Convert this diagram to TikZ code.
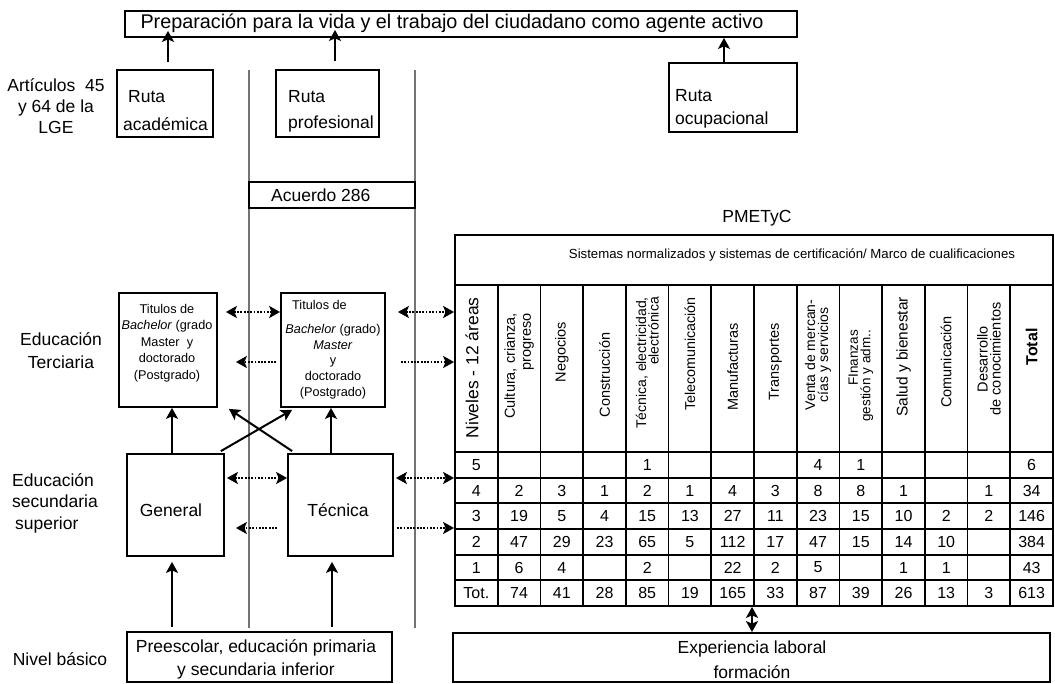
\documentclass[tikz,border=0pt]{standalone}
\usepackage{fontspec}
\setmainfont{Liberation Sans}
\usetikzlibrary{arrows.meta}
\newcommand{\fs}[2]{\fontsize{#1}{#2}\selectfont}
\begin{document}
\begin{tikzpicture}[x=1pt,y=-1pt,
  box/.style={draw, line width=1.8pt, inner sep=0pt},
  sep/.style={draw=black!55, line width=1.5pt},
  grid/.style={line width=1.8pt},
  tip/.tip={Stealth[length=11pt,width=12pt,inset=2.5pt]},
  arr/.style={line width=2pt, -tip},
  dbl/.style={line width=2pt, tip-tip},
  dots/.style={dash pattern=on 1.8pt off 1.5pt},
  lbl/.style={inner sep=0pt, font=\fs{17.5}{21}},
  small/.style={inner sep=0pt, font=\fs{12.7}{16.5}},
  num/.style={inner sep=0pt, font=\fs{16}{18}},
  hdr/.style={inner sep=0pt, rotate=90, font=\fs{14.5}{15}}]
\useasboundingbox (0,0) rectangle (1055,684);

% separators of the three routes
\draw[sep] (249,70) -- (249,628);
\draw[sep] (415,70) -- (415,628);

% top goal
\node[box, minimum width=672pt, minimum height=26pt] (title) at (461,24) {};
\node[lbl, font=\fs{19.8}{22}] (titletxt) at (452,23) {Preparación para la vida y el trabajo del ciudadano como agente activo};

% routes
\node[box, minimum width=96pt, minimum height=67pt] (rutaA) at (165,103.5) {};
\node[lbl, anchor=base west] (rutaA1) at (128,103) {Ruta};
\node[lbl, anchor=base west] (rutaA2) at (123,131) {académica};
\node[box, minimum width=103pt, minimum height=67pt] (rutaP) at (327.5,103.5) {};
\node[lbl, anchor=base west] (rutaP1) at (288,103) {Ruta};
\node[lbl, anchor=base west] (rutaP2) at (288,129) {profesional};
\node[box, minimum width=128pt, minimum height=69pt] (rutaO) at (733,97.5) {};
\node[lbl, anchor=base west] (rutaO1) at (675,102) {Ruta};
\node[lbl, anchor=base west] (rutaO2) at (675,125) {ocupacional};

\draw[arr] ([shift={(3,-7)}]rutaA.north) -- ([shift={(3,-7)}]rutaA.north |- title.south);
\draw[arr] ([shift={(7.5,-8)}]rutaP.north) -- ([shift={(7.5,-8)}]rutaP.north |- title.south);
\draw[arr] ([shift={(-9,0)}]rutaO.north) -- ([shift={(-9,0)}]rutaO.north |- title.south);

% left labels
\node[lbl, align=center, font=\fs{17.5}{21}] (lab1) at (56,106) {Artículos\ \ 45\\y 64 de la\\LGE};
\node[lbl, align=center, font=\fs{17.5}{23}] (lab2) at (61,351) {Educación\\Terciaria};
\node[lbl, align=left, anchor=west, font=\fs{17.5}{21.5}] (lab3) at (12,503) {Educación\\secundaria\\\hspace{3pt}superior};
\node[lbl] (lab4) at (60,659) {Nivel básico};

% agreement
\node[box, minimum width=166pt, minimum height=26pt] (acuerdo) at (332,195) {};
\node[lbl, anchor=west] (acuerdotxt) at (271,195) {Acuerdo 286};

% tertiary
\node[box, minimum width=98pt, minimum height=114pt] (t1) at (168,350) {};
\node[small, align=center] (t1txt) at (167,343) {Titulos de\\\textit{Bachelor} (grado\\Master\ \ y\\doctorado\\(Postgrado)};
\node[box, minimum width=104pt, minimum height=114pt] (t2) at (333,350) {};
\node[small, anchor=west] (t2a) at (292,305) {Titulos de};
\node[small, align=center, font=\fs{12.7}{15.75}] (t2b) at (333,361.5) {\textit{Bachelor} (grado)\\\textit{Master}\\y\\doctorado\\(Postgrado)};

% upper secondary
\node[box, minimum width=97pt, minimum height=102pt] (gen) at (175.5,505) {};
\node[lbl] (gentxt) at (171,510) {General};
\node[box, minimum width=105pt, minimum height=102pt] (tec) at (340.5,505) {};
\node[lbl] (tectxt) at (338,510) {Técnica};

% basic level
\node[box, minimum width=265pt, minimum height=50pt] (pre) at (259.5,657) {};
\node[lbl, align=center, font=\fs{17.5}{23}] (pretxt) at (256,659) {Preescolar, educación primaria\\y secundaria inferior};

% work experience
\node[box, minimum width=597pt, minimum height=49pt] (exp) at (751.5,657.5) {};
\node[lbl, align=center, font=\fs{17.5}{25}] (exptxt) at (752,660) {Experiencia laboral\\formación};

% PMETyC table
\node[lbl] (pme) at (757,218) {PMETyC};
\node[box, minimum width=598pt, minimum height=371pt] (tab) at (754,420.5) {};
\draw[grid] (455,285) -- (1053,285);
\foreach \j in {0,...,5} \draw[grid] (455,{452+25.667*\j}) -- (1053,{452+25.667*\j});
\foreach \k in {1,...,13} \draw[grid] ({455+42.714*\k},285) -- ({455+42.714*\k},606);
\node[inner sep=0pt, font=\fs{13.2}{15}] (sist) at (792,255) {Sistemas normalizados y sistemas de certificación/ Marco de cualificaciones};

\node[hdr, font=\fs{17.5}{20}] (h1) at (472,368) {Niveles - 12 áreas};
\node[hdr, align=right, anchor=east, font=\fs{14.5}{16}] (h2) at (519.1,313) {Cultura, crianza,\\progreso};
\node[hdr] (h3) at (561.8,352) {Negocios};
\node[hdr] (h4) at (604.5,375) {Construcción};
\node[hdr, align=right, anchor=east, font=\fs{14}{12.5}] (h5) at (647.2,297) {Técnica, electricidad,\\electrónica};
\node[hdr, anchor=east, font=\fs{14.3}{15}] (h6) at (689.9,297) {Telecomunicación};
\node[hdr] (h7) at (732.6,367) {Manufacturas};
\node[hdr] (h8) at (775.4,362) {Transportes};
\node[hdr, align=center, font=\fs{14}{13}] (h9) at (818.1,355) {Venta de mercan-\\cías y servicios};
\node[hdr, align=right, anchor=east, font=\fs{13.5}{12.5}] (h10) at (860.8,330) {FInanzas\\gestión y adm..};
\node[hdr, font=\fs{15.5}{16}] (h11) at (903.5,357) {Salud y bienestar};
\node[hdr] (h12) at (946.2,362) {Comunicación};
\node[hdr, align=center, font=\fs{14.5}{13}] (h13) at (988.9,359) {Desarrollo\\de conocimientos};
\node[hdr, font=\fs{16}{18}\bfseries] (h14) at (1031.6,347) {Total};

\foreach \r/\vals in {
  0/{5,{},{},{},1,{},{},{},4,1,{},{},{},6},
  1/{4,2,3,1,2,1,4,3,8,8,1,{},1,34},
  2/{3,19,5,4,15,13,27,11,23,15,10,2,2,146},
  3/{2,47,29,23,65,5,112,17,47,15,14,10,{},384},
  4/{1,6,4,{},2,{},22,2,5,{},1,1,{},43},
  5/{Tot.,74,41,28,85,19,165,33,87,39,26,13,3,613}} {
  \foreach \v [count=\c] in \vals {
    \node[num] (c-\r-\c) at ({455+42.714*(\c-0.5)},{452+25.667*(\r+0.5)}) {\v};
  }
}

% links between tertiary boxes and the table
\draw[dbl,dots] ([shift={(8,-38)}]t1.east) -- ([shift={(0,-38)}]t2.west);
\draw[arr,dots] ([shift={(-4,12)}]t2.west) -- ([shift={(18,12)}]t1.east);
\draw[dbl,dots] ([shift={(12,-38)}]t2.east) -- ([shift={(0,-108.5)}]tab.west);
\draw[arr,dots] ([shift={(15,12)}]t2.east) -- ([shift={(0,-58.5)}]tab.west);

% links between secondary boxes and the table
\draw[dbl,dots] ([shift={(2,-27)}]gen.east) -- ([shift={(0,-27)}]tec.west);
\draw[arr,dots] ([shift={(-10,23)}]tec.west) -- ([shift={(11,23)}]gen.east);
\draw[dbl,dots] ([shift={(2,-27)}]tec.east) -- ([shift={(0,57.5)}]tab.west);
\draw[arr,dots] ([shift={(3,23)}]tec.east) -- ([shift={(0,107.5)}]tab.west);

% progression arrows
\draw[arr] ([xshift=-3.5pt]gen.north) -- ([xshift=4pt]t1.south);
\draw[arr] ([xshift=-9.5pt]tec.north) -- ([xshift=-2pt]t2.south);
\draw[arr] ([shift={(-4,-2)}]gen.north east) -- ([shift={(12,2)}]t2.south west);
\draw[arr] ([shift={(5,-2)}]tec.north west) -- ([shift={(11,1)}]t1.south east);
\draw[arr] ([shift={(-87.5,-4)}]pre.north) -- ([shift={(-3.5,5)}]gen.south);
\draw[arr] ([shift={(72.5,-4)}]pre.north) -- ([shift={(-8.5,5)}]tec.south);
\draw[dbl] ([xshift=-2pt]tab.south) -- ([xshift=0.5pt]exp.north);
\end{tikzpicture}
\end{document}
